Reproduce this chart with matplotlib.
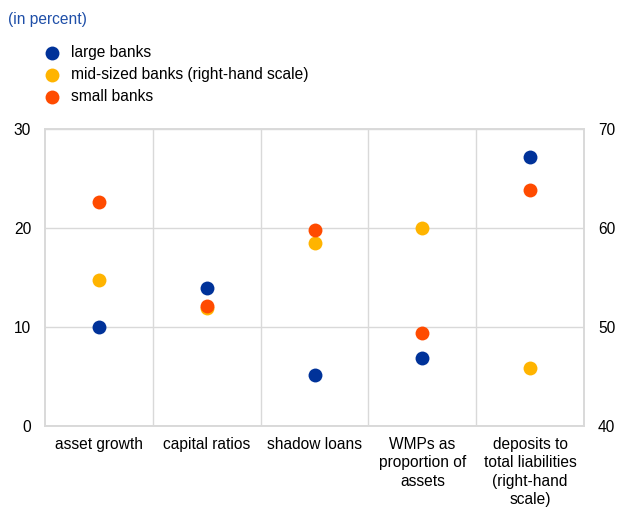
import matplotlib

matplotlib.use("Agg")
import matplotlib.pyplot as plt

plt.rcParams["font.family"] = ["Liberation Sans", "DejaVu Sans"]

categorias = [
    "asset growth",
    "capital ratios",
    "shadow loans",
    "WMPs as\nproportion of\nassets",
    "deposits to\ntotal liabilities\n(right-hand\nscale)",
]

# primeras cuatro categorias en escala izquierda, la ultima (depositos) en escala derecha
grandes_izq = [10.0, 13.9, 5.1, 6.9]
grandes_der = [67.2]
pequenos_izq = [22.6, 12.15, 19.8, 9.4]
pequenos_der = [63.8]
# bancos medianos: todo en escala derecha
medianos_der = [54.7, 51.9, 58.5, 60.0, 45.9]

AZUL = "#003299"
AMARILLO = "#FFB400"
NARANJA = "#FF4B00"
GRIS = "#d9d9d9"

fig = plt.figure(figsize=(6.19, 5.07), dpi=100)
ax = fig.add_axes([0.0727, 0.1598, 0.8708, 0.5858])
ax2 = ax.twinx()

ax.set_xlim(-0.5, 4.5)
ax.set_ylim(0, 30)
ax2.set_ylim(40, 70)
ax.set_yticks([0, 10, 20, 30])
ax2.set_yticks([40, 50, 60, 70])
ax.set_xticks(range(len(categorias)))
ax.set_xticklabels(categorias, fontsize=11.2, linespacing=1.28, va="top")
ax.set_xticks([0.5, 1.5, 2.5, 3.5], minor=True)
ax.grid(True, which="minor", axis="x", color=GRIS, lw=1)
ax.grid(True, which="major", axis="y", color=GRIS, lw=1)
ax.tick_params(axis="x", which="both", length=0, pad=8)
ax.tick_params(axis="y", length=0, labelsize=11.2, pad=10)
ax2.tick_params(axis="y", length=0, labelsize=11.2, pad=10)
for a in (ax, ax2):
    for s in a.spines.values():
        s.set_color(GRIS)
        s.set_linewidth(1.2)
ax.set_axisbelow(True)

x_izq = list(range(4))
x_der = [4]
tam = 100

h1 = ax2.scatter(x_izq, grandes_izq, s=tam, color=AZUL, transform=ax.transData,
                 label="large banks", clip_on=False, lw=0)
ax2.scatter(x_der, grandes_der, s=tam, color=AZUL, lw=0)
h2 = ax2.scatter(range(5), medianos_der, s=tam, color=AMARILLO, lw=0,
                 label="mid-sized banks (right-hand scale)")
h3 = ax2.scatter(x_izq, pequenos_izq, s=tam, color=NARANJA, transform=ax.transData,
                 label="small banks", clip_on=False, lw=0)
ax2.scatter(x_der, pequenos_der, s=tam, color=NARANJA, lw=0)
ax2.set_ylim(40, 70)

fig.text(0.013, 0.962, "(in percent)", color="#1f4fa8", fontsize=11.2, va="center")
fig.legend(handles=[h1, h2, h3], loc="upper left", bbox_to_anchor=(0.072, 0.911),
           frameon=False, fontsize=11.2, handletextpad=0.7, labelspacing=0.45,
           borderaxespad=0, borderpad=0, handlelength=1.0, scatterpoints=1)

fig.savefig("out.png", dpi=100)
